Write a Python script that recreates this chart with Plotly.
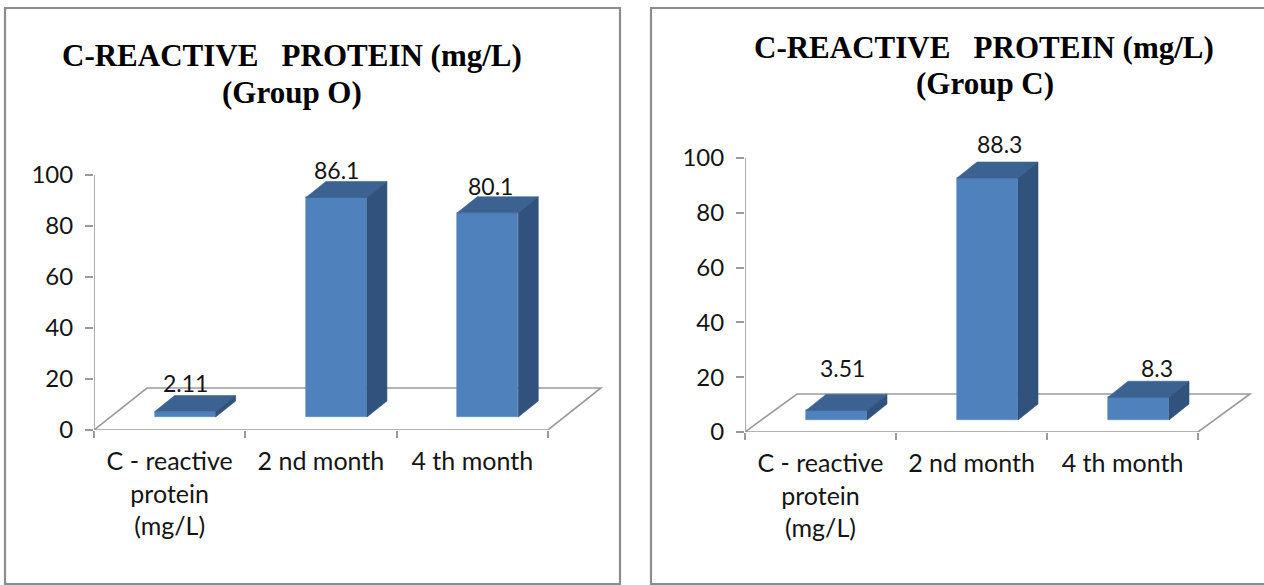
import plotly.graph_objects as go

# ---- data ----
categories = ["C - reactive<br>protein<br>(mg/L)", "2 nd month", "4 th month"]
group_o = [2.11, 86.1, 80.1]
group_c = [3.51, 88.3, 8.3]
y_tick_vals = [0, 20, 40, 60, 80, 100]
title_line1 = "C-REACTIVE\u00a0\u00a0 PROTEIN (mg/L)"
title_o = "(Group O)"
title_c = "(Group C)"

W, H = 1264, 585
GRAY = "#9a9a9a"
FRONT, TOP, SIDE = "#4F81BD", "#3C6292", "#31527C"
TXT = "#141414"
CAT_FONT = dict(family="Lato, Noto Sans, sans-serif", size=25, color=TXT)
TICK_FONT = dict(family="Lato, Noto Sans, sans-serif", size=24, color=TXT)
VALUE_FONT = dict(family="Lato, Noto Sans, sans-serif", size=23, color=TXT)
TITLE_FONT = dict(family="Liberation Serif, serif", size=31, color="#000000")

# pixel geometry of each panel (projection of the pseudo-3D box)
panels = [
    dict(values=group_o, title=title_o, x0=94, cat_px=151.3, y0=430, val_px=2.55,
         floor_dx=53, floor_dy=42, bar_dx=15.5, bar_dy=13, bar_w=61, depth_dx=20, depth_dy=16,
         dom_x=(94, 640), dom_top=125, title_x=(291.5, 292), title_y=(55, 92),
         label_shift=[(0, 28.5), (0.5, 27.5), (3, 26.7)],
         box=(5, 8, 620, 584)),
    dict(values=group_c, title=title_c, x0=745, cat_px=151.0, y0=432, val_px=2.74,
         floor_dx=52, floor_dy=38, bar_dx=16, bar_dy=12, bar_w=61, depth_dx=20, depth_dy=16,
         dom_x=(745, 1264), dom_top=110, title_x=(984, 985), title_y=(47, 84),
         label_shift=[(5.5, 42), (11.5, 34), (18.5, 29)],
         box=(651, 8, 1275, 584)),
]

fig = go.Figure()
shapes, annotations = [], []
n = len(categories)
idx = list(range(n))

for k, p in enumerate(panels, start=1):
    xa = "x" if k == 1 else f"x{k}"
    ya = "y" if k == 1 else f"y{k}"
    cu, vu = p["cat_px"], p["val_px"]
    vals = p["values"]

    # offsets converted to axis units
    shift_x = p["bar_dx"] / cu
    base = p["bar_dy"] / vu
    bw = p["bar_w"] / cu
    ddx = p["depth_dx"] / cu
    ddy = p["depth_dy"] / vu
    fdx = p["floor_dx"] / cu
    fdy = p["floor_dy"] / vu

    xc = [i + shift_x for i in idx]

    # front faces
    fig.add_trace(go.Bar(
        x=xc, y=vals, base=[base] * n, width=bw,
        marker=dict(color=FRONT, line=dict(color="#5B8CC6", width=0.6)),
        xaxis=xa, yaxis=ya, hoverinfo="skip", showlegend=False))

    # top and side faces
    top_x, top_y, side_x, side_y = [], [], [], []
    for c, v in zip(xc, vals):
        l, r, t = c - bw / 2, c + bw / 2, base + v
        top_x += [l, r, r + ddx, l + ddx, l, None]
        top_y += [t, t, t + ddy, t + ddy, t, None]
        side_x += [r, r + ddx, r + ddx, r, r, None]
        side_y += [base, base + ddy, t + ddy, t, base, None]
    fig.add_trace(go.Scatter(x=top_x, y=top_y, fill="toself", fillcolor=TOP, mode="lines",
                             line=dict(color=TOP, width=0.6), xaxis=xa, yaxis=ya,
                             hoverinfo="skip", showlegend=False))
    fig.add_trace(go.Scatter(x=side_x, y=side_y, fill="toself", fillcolor=SIDE, mode="lines",
                             line=dict(color=SIDE, width=0.6), xaxis=xa, yaxis=ya,
                             hoverinfo="skip", showlegend=False))

    # floor of the 3D box and the value axis line
    lo, hi = -0.5, n - 0.5
    shapes.append(dict(type="path", xref=xa, yref=ya, layer="below",
                       path=f"M {lo},0 L {hi},0 L {hi + fdx},{fdy} L {lo + fdx},{fdy} Z",
                       line=dict(color=GRAY, width=1.6), fillcolor="white"))
    shapes.append(dict(type="line", xref=xa, yref=ya, layer="below",
                       x0=lo, x1=lo, y0=0, y1=max(y_tick_vals),
                       line=dict(color=GRAY, width=1.6)))

    # value labels
    for c, v, (sx, sy) in zip(xc, vals, p["label_shift"]):
        annotations.append(dict(x=c, y=base + v, xref=xa, yref=ya, text=f"{v:g}",
                                showarrow=False, xshift=sx, yshift=sy,
                                xanchor="center", yanchor="middle", font=VALUE_FONT))

    # titles
    for txt, tx, ty in zip([title_line1, p["title"]], p["title_x"], p["title_y"]):
        annotations.append(dict(x=tx / W, y=1 - ty / H, xref="paper", yref="paper",
                                text=f"<b>{txt}</b>", showarrow=False,
                                xanchor="center", yanchor="middle", font=TITLE_FONT))

    # panel frame
    bx0, by0, bx1, by1 = p["box"]
    shapes.append(dict(type="rect", xref="paper", yref="paper",
                       x0=bx0 / W, x1=bx1 / W, y0=1 - by1 / H, y1=1 - by0 / H,
                       line=dict(color="#8c8c8c", width=2.2), layer="below"))

    # axes
    d0, d1 = p["dom_x"]
    x_range = [lo, lo + (d1 - d0) / cu]
    y_range = [0, (p["y0"] - p["dom_top"]) / vu]
    fig.update_layout({
        ("xaxis" if k == 1 else f"xaxis{k}"): dict(
            domain=[d0 / W, min(d1 / W, 1.0)], range=x_range, anchor=ya,
            tickmode="array", tickvals=idx, ticktext=categories, ticks="",
            showline=False, showgrid=False, zeroline=False, tickfont=CAT_FONT,
            ticklabelstandoff=14, automargin=False,
            minor=dict(tickmode="array", tickvals=[i - 0.5 for i in range(n + 1)],
                       ticks="outside", ticklen=7, tickwidth=1.6, tickcolor=GRAY,
                       showgrid=False),
            fixedrange=True),
        ("yaxis" if k == 1 else f"yaxis{k}"): dict(
            domain=[1 - p["y0"] / H, 1 - p["dom_top"] / H], range=y_range, anchor=xa,
            tickmode="array", tickvals=y_tick_vals, ticks="outside", ticklen=8,
            tickwidth=1.6, tickcolor=GRAY, showline=False, showgrid=False, zeroline=False,
            tickfont=TICK_FONT, ticklabelstandoff=7, automargin=False, fixedrange=True),
    })

fig.update_layout(
    width=W, height=H, autosize=False,
    margin=dict(l=0, r=0, t=0, b=0, pad=0, autoexpand=False),
    paper_bgcolor="white", plot_bgcolor="rgba(0,0,0,0)",
    shapes=shapes, annotations=annotations, showlegend=False, bargap=0,
)

fig.write_html("out.html", config=dict(displayModeBar=False))
